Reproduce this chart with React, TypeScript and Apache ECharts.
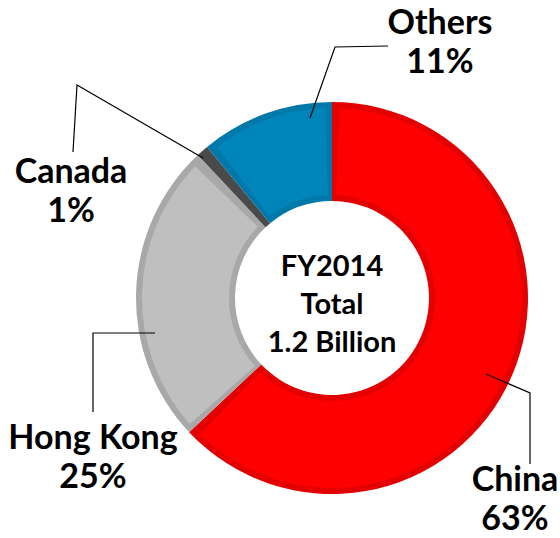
import React, { useEffect, useRef } from "react";
import * as echarts from "echarts";

const categories = ["China", "Hong Kong", "Canada", "Others"];
const shares = [63, 25, 1, 11];
const fillColors = ["#FF0000", "#BFBFBF", "#575757", "#0085BA"];
const edgeColors = ["#E30000", "#A8A8A8", "#4A4A4A", "#0079AA"];
const centerLines = ["FY2014", "Total", "1.2 Billion"];

// label placement (layout only): label anchor and leader-line path
const labelPos: Record<string, { x: number; y: number; line: number[][] }> = {
  China: { x: 515, y: 458, line: [[486, 374], [530, 393], [530, 464]] },
  "Hong Kong": { x: 93, y: 416, line: [[155, 333], [93, 333], [93, 412]] },
  Canada: { x: 71, y: 150, line: [[203, 158], [77, 85], [73, 152]] },
  Others: { x: 440, y: 1, line: [[310, 118], [335, 47], [388, 46]] },
};

const FONT = "Lato, 'Open Sans', sans-serif";

export default function App() {
  const ref = useRef<HTMLDivElement>(null);
  useEffect(() => {
    const chart = echarts.init(ref.current!, null, { renderer: "svg" });
    const data = categories.map((name, i) => ({ name, value: shares[i] }));
    chart.setOption({
      animation: false,
      backgroundColor: "#ffffff",
      series: [
        {
          type: "pie",
          center: [332, 298],
          radius: [97, 196],
          startAngle: 90,
          clockwise: true,
          silent: true,
          label: { show: false },
          labelLine: { show: false },
          data: data.map((d, i) => ({ ...d, itemStyle: { color: edgeColors[i] } })),
        },
        {
          type: "pie",
          center: [332, 298],
          radius: [103, 190],
          startAngle: 90,
          clockwise: true,
          padAngle: 4.4,
          silent: true,
          label: { show: false },
          labelLine: { show: false },
          data: data.map((d, i) => ({ ...d, itemStyle: { color: fillColors[i] } })),
        },
        {
          type: "pie",
          center: [332, 298],
          radius: [97, 196],
          startAngle: 90,
          clockwise: true,
          silent: true,
          z: 5,
          itemStyle: { color: "rgba(0,0,0,0)" },
          label: {
            show: true,
            position: "outside",
            formatter: "{b}\n{c}%",
            fontFamily: FONT,
            fontWeight: "bold",
            fontSize: 34,
            lineHeight: 39,
            color: "#000",
            align: "center",
            overflow: "none",
          },
          labelLine: { show: true, lineStyle: { color: "#000", width: 1.2 } },
          labelLayout: (params: any) => {
            const name = categories[params.dataIndex];
            const p = labelPos[name];
            return {
              x: p.x,
              y: p.y,
              width: 240,
              align: "center",
              verticalAlign: "top",
              hideOverlap: false,
              labelLinePoints: p.line,
            };
          },
          data,
        },
      ],
      graphic: [
        {
          type: "text",
          x: 332,
          y: 302,
          z: 10,
          style: {
            text: centerLines.join("\n"),
            fontFamily: FONT,
            fontWeight: "bold",
            fontSize: 29,
            lineHeight: 38,
            fill: "#000",
            align: "center",
            verticalAlign: "middle",
          },
        },
      ],
    });
    return () => chart.dispose();
  }, []);
  return (
    <div
      ref={ref}
      style={{ position: "absolute", left: 0, top: 0, width: 560, height: 538 }}
    />
  );
}
